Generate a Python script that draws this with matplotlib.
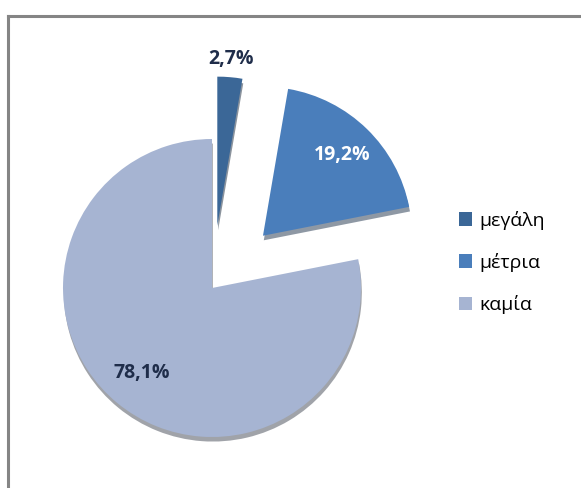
import matplotlib
matplotlib.use("Agg")
import numpy as np
import matplotlib.pyplot as plt
from matplotlib.lines import Line2D

categories = ['μεγάλη', 'μέτρια', 'καμία']
values = [2.7, 19.2, 78.1]
pct_labels = ['2,7%', '19,2%', '78,1%']

colors = ['#3b6797', '#4a7ebb', '#a6b4d2']
label_colors = ['#1f2d4a', 'white', '#1f2d4a']
explode = [0.42, 0.49, 0.0]
label_r = [1.12, 0.76, 0.74]

W, H = 581, 488
fig = plt.figure(figsize=(W / 100, H / 100), dpi=100)

# pie axes: 1 data unit = 149 px, centre of main slice at (212, 288) px
scale = 149.0
cx, cy = 212, 288
px0, px1, py0, py1 = 12, 442, 20, 470
ax = fig.add_axes([px0 / W, 1 - py1 / H, (px1 - px0) / W, (py1 - py0) / H])

wedges, _ = ax.pie(values, colors=colors, explode=explode, startangle=90,
                   counterclock=False,
                   shadow={'ox': 0.004, 'oy': -0.022, 'shade': 0.6},
                   wedgeprops=dict(linewidth=0))

for w, lab, col, r in zip(wedges, pct_labels, label_colors, label_r):
    mid = np.deg2rad((w.theta1 + w.theta2) / 2)
    x, y = w.center
    ax.text(x + r * np.cos(mid), y + r * np.sin(mid), lab,
            ha='center', va='center', color=col, fontsize=14,
            fontweight='bold', family=['Open Sans', 'DejaVu Sans'])

ax.set_xlim((px0 - cx) / scale, (px1 - cx) / scale)
ax.set_ylim((cy - py1) / scale, (cy - py0) / scale)
ax.set_aspect('auto')

leg = fig.legend(wedges, categories, loc='upper left',
                 bbox_to_anchor=(441 / W, 1 - 193 / H), frameon=False,
                 handlelength=0.7, handleheight=0.7, handletextpad=0.35,
                 labelspacing=1.2, prop={'family': ['Open Sans', 'DejaVu Sans'], 'size': 14})

# chart border (top and left edge visible)
fig.add_artist(Line2D([8 / W, 1], [1 - 16 / H, 1 - 16 / H], color='#858585', lw=2.2))
fig.add_artist(Line2D([8 / W, 8 / W], [0, 1 - 16 / H], color='#858585', lw=2.2))

fig.savefig('out.png', dpi=100, facecolor='white')
